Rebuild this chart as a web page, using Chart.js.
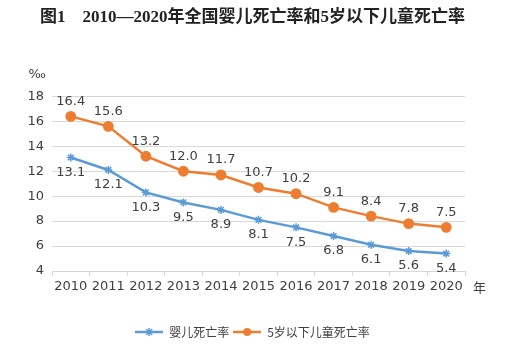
<!DOCTYPE html>
<html>
<head>
<meta charset="utf-8">
<script src="https://cdn.jsdelivr.net/npm/chart.js@4/dist/chart.umd.min.js"></script>
<style>
  html, body { margin: 0; padding: 0; background: #fff; }
  #wrap { width: 505px; height: 359px; }
</style>
</head>
<body>
<div id="wrap"><canvas id="lineChart" width="505" height="359"></canvas></div>
<script>
// 数据
const years = ["2010", "2011", "2012", "2013", "2014", "2015", "2016", "2017", "2018", "2019", "2020"];
const infantRate = [13.1, 12.1, 10.3, 9.5, 8.9, 8.1, 7.5, 6.8, 6.1, 5.6, 5.4];
const under5Rate = [16.4, 15.6, 13.2, 12.0, 11.7, 10.7, 10.2, 9.1, 8.4, 7.8, 7.5];
const yTicks = [4, 6, 8, 10, 12, 14, 16, 18];

const blue = "#5B9BD5";
const orange = "#ED7D31";
const textColor = "#404040";
const labelFont = "13px 'DejaVu Sans', sans-serif";

// legend symbol: a short line with the marker in the middle
function legendIcon(color, style) {
  const c = document.createElement("canvas");
  c.width = 28;
  c.height = 10;
  const g = c.getContext("2d");
  g.strokeStyle = color;
  g.fillStyle = color;
  g.lineWidth = 2.5;
  g.beginPath();
  g.moveTo(0, 5);
  g.lineTo(28, 5);
  g.stroke();
  if (style === "circle") {
    g.beginPath();
    g.arc(14, 5, 4, 0, Math.PI * 2);
    g.fill();
  } else {
    g.lineWidth = 1.5;
    g.beginPath();
    g.moveTo(11, 2); g.lineTo(17, 8);
    g.moveTo(17, 2); g.lineTo(11, 8);
    g.moveTo(14, 1); g.lineTo(14, 9);
    g.stroke();
  }
  return c;
}

// value labels, plus the ‰ and 年 unit texts
const extraText = {
  id: "extraText",
  afterDatasetsDraw(chart) {
    const ctx = chart.ctx;
    ctx.save();
    ctx.font = labelFont;
    ctx.fillStyle = textColor;
    ctx.textAlign = "center";
    ctx.textBaseline = "middle";
    chart.data.datasets.forEach((ds, i) => {
      const meta = chart.getDatasetMeta(i);
      meta.data.forEach((pt, j) => {
        const dy = i === 0 ? 15 : -15;
        ctx.fillText(ds.data[j].toFixed(1), pt.x, pt.y + dy);
      });
    });
    const area = chart.chartArea;
    ctx.font = "13px 'DejaVu Sans', sans-serif";
    ctx.textAlign = "right";
    ctx.fillText("‰", 46, area.top - 22);
    ctx.textAlign = "left";
    ctx.font = "13px 'Noto Sans CJK SC', sans-serif";
    ctx.fillText("年", area.right + 8, area.bottom + 16);
    ctx.restore();
  },
};

const config = {
  type: "line",
  data: {
    labels: years,
    datasets: [
      {
        label: "婴儿死亡率",
        data: infantRate,
        borderColor: blue,
        backgroundColor: blue,
        borderWidth: 2.5,
        pointStyle: "star",
        pointRadius: 4,
        pointBorderWidth: 1.5,
        tension: 0,
      },
      {
        label: "5岁以下儿童死亡率",
        data: under5Rate,
        borderColor: orange,
        backgroundColor: orange,
        borderWidth: 2.5,
        pointStyle: "circle",
        pointRadius: 4.2,
        tension: 0,
      },
    ],
  },
  options: {
    responsive: false,
    animation: false,
    layout: { padding: { left: 0, right: 0, top: 0, bottom: 11 } },
    plugins: {
      title: {
        display: true,
        text: "图1    2010—2020年全国婴儿死亡率和5岁以下儿童死亡率",
        color: "#222",
        font: { family: "'Liberation Serif', 'Noto Sans CJK SC', serif", size: 17, weight: "bold" },
        padding: { top: 7, bottom: 69 },
      },
      legend: {
        position: "bottom",
        labels: {
          usePointStyle: true,
          pointStyleWidth: 28,
          boxHeight: 10,
          color: textColor,
          font: { family: "'Noto Sans CJK SC', sans-serif", size: 12 },
          padding: 4,
          generateLabels(chart) {
            return chart.data.datasets.map((ds, i) => ({
              text: ds.label,
              fillStyle: ds.borderColor,
              strokeStyle: ds.borderColor,
              pointStyle: legendIcon(ds.borderColor, i === 0 ? "star" : "circle"),
              datasetIndex: i,
              fontColor: textColor,
            }));
          },
        },
      },
      tooltip: { enabled: false },
    },
    scales: {
      x: {
        offset: true,
        grid: { display: true, offset: true, drawOnChartArea: false, tickLength: 5, color: "#d9d9d9" },
        border: { color: "#d9d9d9" },
        ticks: { color: textColor, font: { family: "'DejaVu Sans', sans-serif", size: 13 }, padding: 3, maxRotation: 0 },
        afterFit(scale) { scale.height = 51; },
      },
      y: {
        min: 4,
        max: 18,
        afterBuildTicks(scale) { scale.ticks = yTicks.map((v) => ({ value: v })); },
        grid: { color: "#d9d9d9", drawTicks: false },
        border: { display: false },
        ticks: { color: textColor, font: { family: "'DejaVu Sans', sans-serif", size: 13 }, padding: 8 },
        afterFit(scale) { scale.width = 52; },
      },
      // empty right axis, only keeps room for the 年 label
      yRight: {
        position: "right",
        min: 4,
        max: 18,
        grid: { display: false },
        border: { display: false },
        ticks: { display: false },
        afterFit(scale) { scale.width = 40; },
      },
    },
  },
  plugins: [extraText],
};

new Chart(document.getElementById("lineChart"), config);
</script>
</body>
</html>
